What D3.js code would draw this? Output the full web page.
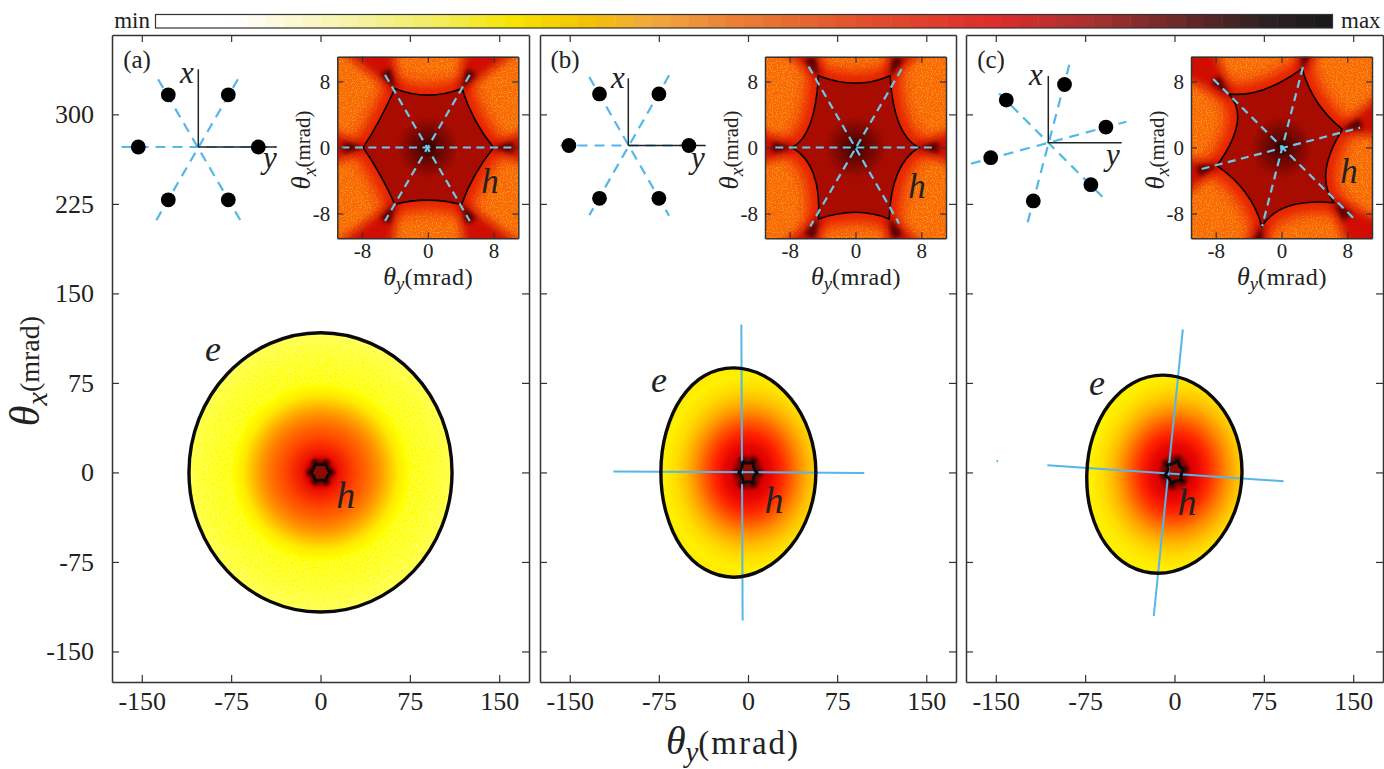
<!DOCTYPE html>
<html>
<head>
<meta charset="utf-8">
<style>
  html, body { margin: 0; padding: 0; background: #fff; }
  text { font-family: "Liberation Serif", serif; fill: #222; }
</style>
<script src="https://cdnjs.cloudflare.com/ajax/libs/d3/7.8.5/d3.min.js"></script>
</head>
<body>
<script>
// tick labels
var mainXTicks = [-150, -75, 0, 75, 150];
var mainYTicks = [-150, -75, 0, 75, 150, 225, 300];
var insetTicks = [-8, 0, 8];
var panelNames = ["(a)", "(b)", "(c)"];

// colour bar (0 = min, 1 = max)
var barStops = [0, 0.06, 0.1, 0.17, 0.25, 0.3, 0.36, 0.42, 0.5, 0.6, 0.72, 0.8, 0.88, 0.95, 1];
var barColors = ["#ffffff", "#ffffff", "#fdf9dc", "#f6f2a0", "#f2ec4c", "#f6e400", "#f4c400", "#f2a840", "#ea7c34", "#e2502c", "#dc2c2c", "#a83030", "#682828", "#2e2022", "#1a1a1a"];
var barSteps = d3.range(64);

// hole contour: cusps and the middle of each edge between them, in mrad [thetaY, thetaX]
var cuspsA = [[8, 0], [4.15, 7.15], [-4, 7.15], [-7.85, 0], [-4, -6.87], [4.1, -6.9]];
var midsA = [[5.77, 3.3], [0, 6.34], [-5.9, 3.3], [-5.8, -3.3], [0, -6.38], [5.75, -3.3]];
var cuspsB = [[7.7, 0], [4.2, 8.7], [-4.5, 8.7], [-7.7, 0], [-4.5, -8.65], [4.1, -8.65]];
var midsB = [[5.3, 2.9], [0, 7.8], [-5.5, 2.9], [-5.1, -3.2], [0, -7.85], [5.1, -3.2]];
var cuspsC = [[7.4, 2.2], [2.5, 9.55], [-6.4, 6.5], [-7.85, -2.2], [-2.4, -9.55], [6.4, -6.7]];
var midsC = [[4.35, 5.5], [-2.2, 7], [-5.4, 2.85], [-4.35, -5.5], [0.9, -7.1], [5.4, -2.85]];

// electron contour around the panel, in mrad [thetaY, thetaX]
var outlineA = [[110.4, 0], [102, 44.8], [78.1, 82.7], [42.2, 108.1], [0, 117], [-42.2, 108.1], [-78.1, 82.7], [-102, 44.8], [-110.4, 0], [-102, -44.8], [-78.1, -82.7], [-42.2, -108.1], [0, -117], [42.2, -108.1], [78.1, -82.7], [102, -44.8]];
var outlineB = [[57.1, 0], [51.5, 33.6], [35.9, 62], [13.3, 81], [-12.3, 87.6], [-36.7, 81], [-56.3, 62], [-68.9, 33.6], [-73.3, 0], [-68.9, -33.6], [-56.3, -62], [-36.7, -81], [-12.3, -87.8], [13.3, -81], [35.9, -62], [51.5, -33.6]];
var outlineC = [[56.6, -1.5], [52, 30.3], [37.3, 57.2], [15.4, 75.2], [-9.8, 81.5], [-34.4, 75.2], [-54.7, 57.2], [-68.4, 30.3], [-73.6, -1.5], [-70, -33.3], [-57.7, -60.2], [-38.2, -78.2], [-14, -84.5], [11.6, -78.2], [34.3, -60.2], [50.4, -33.3]];

// radial colour profile inside the electron contour (mrad from centre)
var heatRadiusA = [0, 8, 10, 12, 16, 30, 40, 50, 58, 65, 73, 100, 118];
var heatColorA = ["#7a0000", "#700000", "#a00000", "#d80400", "#f01400", "#ff4800", "#ff6c00", "#ff9800", "#ffc400", "#ffea00", "#ffff00", "#ffff28", "#ffff50"];
var heatRadiusB = [0, 8, 11, 14, 20, 28, 36, 44, 52, 60, 70, 90];
var heatColorB = ["#7a0000", "#700000", "#a00000", "#d80000", "#ea0800", "#ff2400", "#ff5800", "#ff9000", "#ffbc00", "#ffdc00", "#fff000", "#ffe000"];

// straight blue lines across the main panels, in mrad
var axisLinesB = [[[-5.6, 123.9], [-4.5, -124]], [[-113.2, 0.7], [97.8, -0.4]]];
var axisLinesC = [[[7, 119.8], [-17.4, -120.3]], [[-106.7, 6], [91.6, -7.4]], [[-149.4, 9.6], [-148, 9.4]]];

// dashed blue lines in the insets, in mrad
var dashesA = [[[-5.2, 8.8], [5.1, -8.9]], [[5.1, 8.8], [-5.2, -8.9]], [[-10.5, 0], [10.4, 0]]];
var dashesB = [[[-5.7, 9.8], [5.3, -9.2]], [[5.6, 9.5], [-5.5, -9.55]], [[-9.75, 0], [9.95, 0]]];
var dashesC = [[[2.6, 9.75], [-2.36, -9.55]], [[-8.3, 8.3], [8.7, -8.5]], [[-9.7, -2.6], [9.55, 2.4]]];

// lattice sketch: atoms and lattice directions in units of the atom ring radius
var atomsA = [[-0.5, 0.87], [0.5, 0.87], [-1, 0], [1, 0], [-0.5, -0.88], [0.5, -0.88]];
var atomsB = [[-0.48, 0.86], [0.51, 0.86], [-0.99, 0], [1.01, 0], [-0.48, -0.88], [0.51, -0.88]];
var atomsC = [[0.27, 0.97], [-0.7, 0.71], [0.96, 0.26], [-0.96, -0.25], [0.71, -0.7], [-0.25, -0.97]];
var sketchA = [[[-0.67, 1.13], [0.7, -1.22]], [[0.66, 1.13], [-0.7, -1.22]], [[-1.28, 0], [1.3, 0]]];
var sketchB = [[[-0.65, 1.14], [0.68, -1.17]], [[0.68, 1.17], [-0.65, -1.16]], [[-1.13, 0], [1.1, 0]]];
var sketchC = [[[0.35, 1.3], [-0.35, -1.35]], [[-0.82, 0.82], [0.9, -0.9]], [[-1.29, -0.35], [1.3, 0.35]]];

var WIDTH = 1384, HEIGHT = 769;
var BLUE = "#55b6ea", DASH_BLUE = "#68c8ee", FRAME = "#333";
var SERIF = '"Liberation Serif", serif';

var panels = [
  { name: panelNames[0], left: 112, right: 529, inset: 337.3, insetH: [490, 193], cusps: cuspsA, mids: midsA, outline: outlineA, radius: heatRadiusA, colors: heatColorA, stretch: 1, tilt: 0, dashes: dashesA, lines: [], atoms: atomsA, sketch: sketchA, ox: 198.3, oy: 147, xTop: 69.3, yEnd: 276.7, xPos: [187, 77], yPos: [270, 163], ePos: [213, 352], hPos: [345.7, 495] },
  { name: panelNames[1], left: 540, right: 956, inset: 765, insetH: [917, 198], cusps: cuspsB, mids: midsB, outline: outlineB, radius: heatRadiusB, colors: heatColorB, stretch: 1.17, tilt: 0, dashes: dashesB, lines: axisLinesB, atoms: atomsB, sketch: sketchB, ox: 628.3, oy: 145.5, xTop: 78.3, yEnd: 705.7, xPos: [618, 82], yPos: [698, 163], ePos: [659, 383], hPos: [774, 500] },
  { name: panelNames[2], left: 966, right: 1383, inset: 1191, insetH: [1349, 183], cusps: cuspsC, mids: midsC, outline: outlineC, radius: heatRadiusB, colors: heatColorB, stretch: 1.17, tilt: 6, dashes: dashesC, lines: axisLinesC, atoms: atomsC, sketch: sketchC, ox: 1048.3, oy: 142.7, xTop: 76, yEnd: 1121.7, xPos: [1036, 79], yPos: [1113, 160], ePos: [1097, 386], hPos: [1187, 502] }
];

var svg = d3.select("body").append("svg").attr("width", WIDTH).attr("height", HEIGHT).style("display", "block");
svg.append("rect").attr("width", WIDTH).attr("height", HEIGHT).attr("fill", "#fff");
var defs = svg.append("defs");

defs.append("filter").attr("id", "blurHuge").attr("x", "-60%").attr("y", "-60%").attr("width", "220%").attr("height", "220%")
    .append("feGaussianBlur").attr("stdDeviation", 7);
defs.append("filter").attr("id", "blurWide").attr("x", "-50%").attr("y", "-50%").attr("width", "200%").attr("height", "200%")
    .append("feGaussianBlur").attr("stdDeviation", 5);
defs.append("filter").attr("id", "blurMid").attr("x", "-60%").attr("y", "-60%").attr("width", "220%").attr("height", "220%")
    .append("feGaussianBlur").attr("stdDeviation", 2.4);
defs.append("filter").attr("id", "blurSmall").attr("x", "-80%").attr("y", "-80%").attr("width", "260%").attr("height", "260%")
    .append("feGaussianBlur").attr("stdDeviation", 1.6);

// fine grain of the simulated maps
var grain = defs.append("filter").attr("id", "grain").attr("x", 0).attr("y", 0).attr("width", "100%").attr("height", "100%")
    .attr("color-interpolation-filters", "sRGB");
grain.append("feTurbulence").attr("type", "fractalNoise").attr("baseFrequency", 0.8).attr("numOctaves", 1).attr("seed", 4);
grain.append("feColorMatrix").attr("type", "matrix")
    .attr("values", "0 0 0 0 1  0 0 0 0 0.72  0 0 0 0 0.06  6 0 0 0 -3");

var paleGrain = defs.append("filter").attr("id", "paleGrain").attr("x", 0).attr("y", 0).attr("width", "100%").attr("height", "100%")
    .attr("color-interpolation-filters", "sRGB");
paleGrain.append("feTurbulence").attr("type", "fractalNoise").attr("baseFrequency", 0.6).attr("numOctaves", 1).attr("seed", 9);
paleGrain.append("feColorMatrix").attr("type", "matrix")
    .attr("values", "0 0 0 0 1  0 0 0 0 1  0 0 0 0 0.7  5 0 0 0 -2.4");

drawColorBar();
panels.forEach(function (p, i) {
  drawPanel(p, i);
});
drawAxisTitles();


function drawColorBar()
{
  var barX = d3.scaleLinear().domain([0, barSteps.length]).range([155.5, 1332.5]);
  var barColor = d3.scaleLinear().domain(barStops).range(barColors).interpolate(d3.interpolateRgb);

  svg.append("g").selectAll("rect").data(barSteps).join("rect")
      .attr("x", function (d) { return barX(d); })
      .attr("y", 14.5)
      .attr("width", barX(1) - barX(0) + 0.5)
      .attr("height", 13.5)
      .attr("fill", function (d) { return barColor(d / (barSteps.length - 1)); });

  svg.append("rect").attr("x", 155.5).attr("y", 14.5).attr("width", 1177).attr("height", 13.5)
      .attr("fill", "none").attr("stroke", FRAME).attr("stroke-width", 1.2);

  svg.append("text").attr("x", 150).attr("y", 28).attr("text-anchor", "end").attr("font-size", 23).text("min");
  svg.append("text").attr("x", 1341).attr("y", 28).attr("font-size", 23).text("max");
}


// curved contour through cusps, with the edges bent through the given middle points
function contourPath(cusps, mids, x, y)
{
  var path = d3.path();
  cusps.forEach(function (c, i) {
    var n = cusps[(i + 1) % cusps.length], m = mids[i];
    var cx = 2 * m[0] - (c[0] + n[0]) / 2, cy = 2 * m[1] - (c[1] + n[1]) / 2;
    if (i == 0) path.moveTo(x(c[0]), y(c[1]));
    path.quadraticCurveTo(x(cx), y(cy), x(n[0]), y(n[1]));
  });
  path.closePath();
  return path.toString();
}


function styleAxis(g, labels)
{
  g.select(".domain").attr("stroke", FRAME).attr("stroke-width", 1.5);
  g.selectAll(".tick line").attr("stroke", FRAME).attr("stroke-width", 1.2);
  g.selectAll(".tick text").attr("fill", "#222").style("font-family", SERIF).attr("font-size", labels);
}


function frameAxes(g, x, y, size, pad, leftPad, showLeft, tickLen, xTicks, yTicks)
{
  var r = x.range(), t = y.range();
  var fmt = function (d) { return String(d); };

  g.append("g").attr("transform", "translate(0," + t[0] + ")")
      .call(d3.axisBottom(x).tickValues(xTicks).tickSize(-tickLen).tickSizeOuter(0).tickPadding(pad).tickFormat(fmt))
      .call(styleAxis, size);
  g.append("g").attr("transform", "translate(0," + t[1] + ")")
      .call(d3.axisTop(x).tickValues(xTicks).tickSize(-tickLen).tickSizeOuter(0).tickFormat(""))
      .call(styleAxis, size);
  g.append("g").attr("transform", "translate(" + r[0] + ",0)")
      .call(d3.axisLeft(y).tickValues(yTicks).tickSize(-tickLen).tickSizeOuter(0).tickPadding(leftPad).tickFormat(showLeft ? fmt : ""))
      .call(styleAxis, size);
  g.append("g").attr("transform", "translate(" + r[1] + ",0)")
      .call(d3.axisRight(y).tickValues(yTicks).tickSize(-tickLen).tickSizeOuter(0).tickFormat(""))
      .call(styleAxis, size);
}


function drawPanel(p, i)
{
  var x = d3.scaleLinear().domain([-175, 175]).range([p.left, p.right]);
  var y = d3.scaleLinear().domain([-175.6, 366.5]).range([682, 35]);
  var g = svg.append("g");

  // electron map
  var rMax = d3.max(p.radius);
  var grad = defs.append("radialGradient").attr("id", "heat" + i)
      .attr("gradientUnits", "userSpaceOnUse")
      .attr("cx", 0).attr("cy", 0).attr("r", 1)
      .attr("gradientTransform", "translate(" + x(0) + "," + y(0) + ") rotate(" + p.tilt + ") scale(" + (x(rMax) - x(0)) + "," + (x(rMax) - x(0)) * p.stretch + ")");
  grad.selectAll("stop").data(p.radius).join("stop")
      .attr("offset", function (d) { return d / rMax; })
      .attr("stop-color", function (d, k) { return p.colors[k]; });

  var outline = d3.line()
      .x(function (d) { return x(d[0]); })
      .y(function (d) { return y(d[1]); })
      .curve(d3.curveCatmullRomClosed.alpha(0.5));

  defs.append("clipPath").attr("id", "eClip" + i).append("path").attr("d", outline(p.outline));
  g.append("path").attr("d", outline(p.outline)).attr("fill", "url(#heat" + i + ")");
  if (i == 0) {
    g.append("rect").attr("x", p.left).attr("y", 320).attr("width", p.right - p.left).attr("height", 300)
        .attr("clip-path", "url(#eClip0)").attr("filter", "url(#paleGrain)").attr("opacity", 0.55);
    g.append("circle").attr("cx", x(0)).attr("cy", y(0)).attr("r", x(74) - x(0))
        .attr("fill", "url(#heat0)");
  }

  // dark spots at the tips of the small contour
  g.selectAll("circle.tip").data(p.cusps).join("circle").attr("class", "tip")
      .attr("cx", function (d) { return x(d[0] * 1.15); })
      .attr("cy", function (d) { return y(d[1] * 1.15); })
      .attr("r", 3.5).attr("fill", "#500000").attr("filter", "url(#blurSmall)");

  g.append("path").attr("d", contourPath(p.cusps, p.mids, x, y)).attr("fill", "#8c0a00");

  // blue axes
  g.selectAll("line.axis").data(p.lines).join("line").attr("class", "axis")
      .attr("x1", function (d) { return x(d[0][0]); })
      .attr("y1", function (d) { return y(d[0][1]); })
      .attr("x2", function (d) { return x(d[1][0]); })
      .attr("y2", function (d) { return y(d[1][1]); })
      .attr("stroke", BLUE).attr("stroke-width", 2);

  g.append("path").attr("d", outline(p.outline)).attr("fill", "none").attr("stroke", "#0a0a0a").attr("stroke-width", 3.4);
  g.append("path").attr("d", contourPath(p.cusps, p.mids, x, y)).attr("fill", "none")
      .attr("stroke", "#0a0a0a").attr("stroke-width", 3).attr("stroke-linejoin", "round");

  frameAxes(g, x, y, 26, 10, 18, i == 0, 7, mainXTicks, mainYTicks);

  // labels
  g.append("text").attr("x", p.left + 25).attr("y", 68).attr("text-anchor", "middle").attr("font-size", 25).text(p.name);
  g.append("text").attr("x", p.ePos[0]).attr("y", p.ePos[1] + 9).attr("text-anchor", "middle").attr("font-size", 36).attr("font-style", "italic").text("e");
  g.append("text").attr("x", p.hPos[0]).attr("y", p.hPos[1] + 13).attr("text-anchor", "middle").attr("font-size", 38).attr("font-style", "italic").text("h");

  drawSketch(g, p);
  drawInset(g, p, i);
}


function drawSketch(g, p)
{
  var sx = d3.scaleLinear().domain([-1, 1]).range([p.ox - 60, p.ox + 60]);
  var sy = d3.scaleLinear().domain([-1, 1]).range([p.oy + 60, p.oy - 60]);

  g.selectAll("line.dash").data(p.sketch).join("line").attr("class", "dash")
      .attr("x1", function (d) { return sx(d[0][0]); })
      .attr("y1", function (d) { return sy(d[0][1]); })
      .attr("x2", function (d) { return sx(d[1][0]); })
      .attr("y2", function (d) { return sy(d[1][1]); })
      .attr("stroke", BLUE).attr("stroke-width", 2.2).attr("stroke-dasharray", "10 7");

  g.append("line").attr("x1", p.ox).attr("y1", p.oy).attr("x2", p.ox).attr("y2", p.xTop).attr("stroke", "#222").attr("stroke-width", 1.5);
  g.append("line").attr("x1", p.ox).attr("y1", p.oy).attr("x2", p.yEnd).attr("y2", p.oy).attr("stroke", "#222").attr("stroke-width", 1.5);

  g.selectAll("circle.atom").data(p.atoms).join("circle").attr("class", "atom")
      .attr("cx", function (d) { return sx(d[0]); })
      .attr("cy", function (d) { return sy(d[1]); })
      .attr("r", 7.4).attr("fill", "#000");

  g.append("text").attr("x", p.xPos[0]).attr("y", p.xPos[1] + 6).attr("text-anchor", "middle").attr("font-size", 31).attr("font-style", "italic").text("x");
  g.append("text").attr("x", p.yPos[0]).attr("y", p.yPos[1] + 5).attr("text-anchor", "middle").attr("font-size", 31).attr("font-style", "italic").text("y");
}


function drawInset(g, p, i)
{
  var left = p.inset, right = p.inset + 181, bottom = 238.3, top = 56.7;
  var x = d3.scaleLinear().domain([-11, 11]).range([left, right]);
  var y = d3.scaleLinear().domain([-11, 11]).range([bottom, top]);
  var unit = x(1) - x(0);
  var hole = contourPath(p.cusps, p.mids, x, y);

  defs.append("clipPath").attr("id", "insetClip" + i).append("rect")
      .attr("x", left).attr("y", top).attr("width", right - left).attr("height", bottom - top);

  var map = g.append("g").attr("clip-path", "url(#insetClip" + i + ")");
  map.append("rect").attr("x", left).attr("y", top).attr("width", right - left).attr("height", bottom - top).attr("fill", "#f8680a");
  map.append("rect").attr("x", left).attr("y", top).attr("width", right - left).attr("height", bottom - top)
      .attr("filter", "url(#grain)").attr("opacity", 0.6);

  // red glow around the contour, soft and far reaching
  map.append("path").attr("d", hole).attr("fill", "#e41c00").attr("stroke", "#e41c00").attr("stroke-width", unit * 2.6).attr("filter", "url(#blurHuge)");

  // red fans running outwards from each cusp
  var fans = map.append("g").attr("filter", "url(#blurWide)");
  p.cusps.forEach(function (c) {
    var a = Math.atan2(c[1], c[0]);
    var nx = -Math.sin(a), ny = Math.cos(a);
    var far = [c[0] + Math.cos(a) * 9, c[1] + Math.sin(a) * 9];
    fans.append("path")
        .attr("d", d3.line()([
          [x(c[0] - Math.cos(a)), y(c[1] - Math.sin(a))],
          [x(far[0] + nx * 4.2), y(far[1] + ny * 4.2)],
          [x(far[0] - nx * 4.2), y(far[1] - ny * 4.2)]
        ]))
        .attr("fill", "#d01000");
  });

  // dark streaks just beyond the cusps
  var dark = map.append("g").attr("filter", "url(#blurMid)");
  p.cusps.forEach(function (c) {
    var a = Math.atan2(c[1], c[0]);
    var nx = -Math.sin(a), ny = Math.cos(a);
    var far = [c[0] + Math.cos(a) * 2.4, c[1] + Math.sin(a) * 2.4];
    dark.append("path")
        .attr("d", d3.line()([
          [x(c[0] - Math.cos(a) * 0.4), y(c[1] - Math.sin(a) * 0.4)],
          [x(far[0] + nx * 0.7), y(far[1] + ny * 0.7)],
          [x(far[0] - nx * 0.7), y(far[1] - ny * 0.7)]
        ]))
        .attr("fill", "#500000");
  });

  // inside of the contour
  var grad = defs.append("radialGradient").attr("id", "core" + i)
      .attr("gradientUnits", "userSpaceOnUse")
      .attr("cx", x(0)).attr("cy", y(0)).attr("r", unit * 3.8);
  grad.append("stop").attr("offset", 0).attr("stop-color", "#240000");
  grad.append("stop").attr("offset", 0.3).attr("stop-color", "#5c0400");
  grad.append("stop").attr("offset", 1).attr("stop-color", "#a80c00");

  map.append("path").attr("d", hole).attr("fill", "url(#core" + i + ")");
  map.append("path").attr("d", hole).attr("fill", "none").attr("stroke", "#0a0000").attr("stroke-width", 1.6);

  map.selectAll("line.dash").data(p.dashes).join("line").attr("class", "dash")
      .attr("x1", function (d) { return x(d[0][0]); })
      .attr("y1", function (d) { return y(d[0][1]); })
      .attr("x2", function (d) { return x(d[1][0]); })
      .attr("y2", function (d) { return y(d[1][1]); })
      .attr("stroke", DASH_BLUE).attr("stroke-width", 2.2).attr("stroke-dasharray", "8 5.5");

  frameAxes(g.append("g"), x, y, 21, 4.5, 7, true, 6, insetTicks, insetTicks);

  g.append("text").attr("x", p.insetH[0]).attr("y", p.insetH[1]).attr("text-anchor", "middle").attr("font-size", 35).attr("font-style", "italic").text("h");

  // axis names of the inset
  thetaLabel(g.append("text").attr("x", left + 91).attr("y", 284.5).attr("text-anchor", "middle"), "y", 26, 24, 0.6);
  thetaLabel(g.append("text").attr("text-anchor", "middle").attr("transform", "translate(" + (left - 27) + ",150) rotate(-90)"), "x", 27, 21, 0);
}


// theta with an italic subscript, then the unit
function thetaLabel(t, sub, big, small, spacing)
{
  t.append("tspan").attr("font-style", "italic").attr("font-size", big).text("θ");
  t.append("tspan").attr("font-style", "italic").attr("font-size", big * 0.72).attr("dy", big * 0.2).text(sub);
  t.append("tspan").attr("font-size", small).attr("dy", -big * 0.2).attr("letter-spacing", spacing).text("(mrad)");
}


function drawAxisTitles()
{
  thetaLabel(svg.append("text").attr("x", 733).attr("y", 754).attr("text-anchor", "middle"), "y", 40, 33, 2);
  thetaLabel(svg.append("text").attr("text-anchor", "middle").attr("transform", "translate(39,371) rotate(-90)"), "x", 42, 28, 0);
}
</script>
</body>
</html>
